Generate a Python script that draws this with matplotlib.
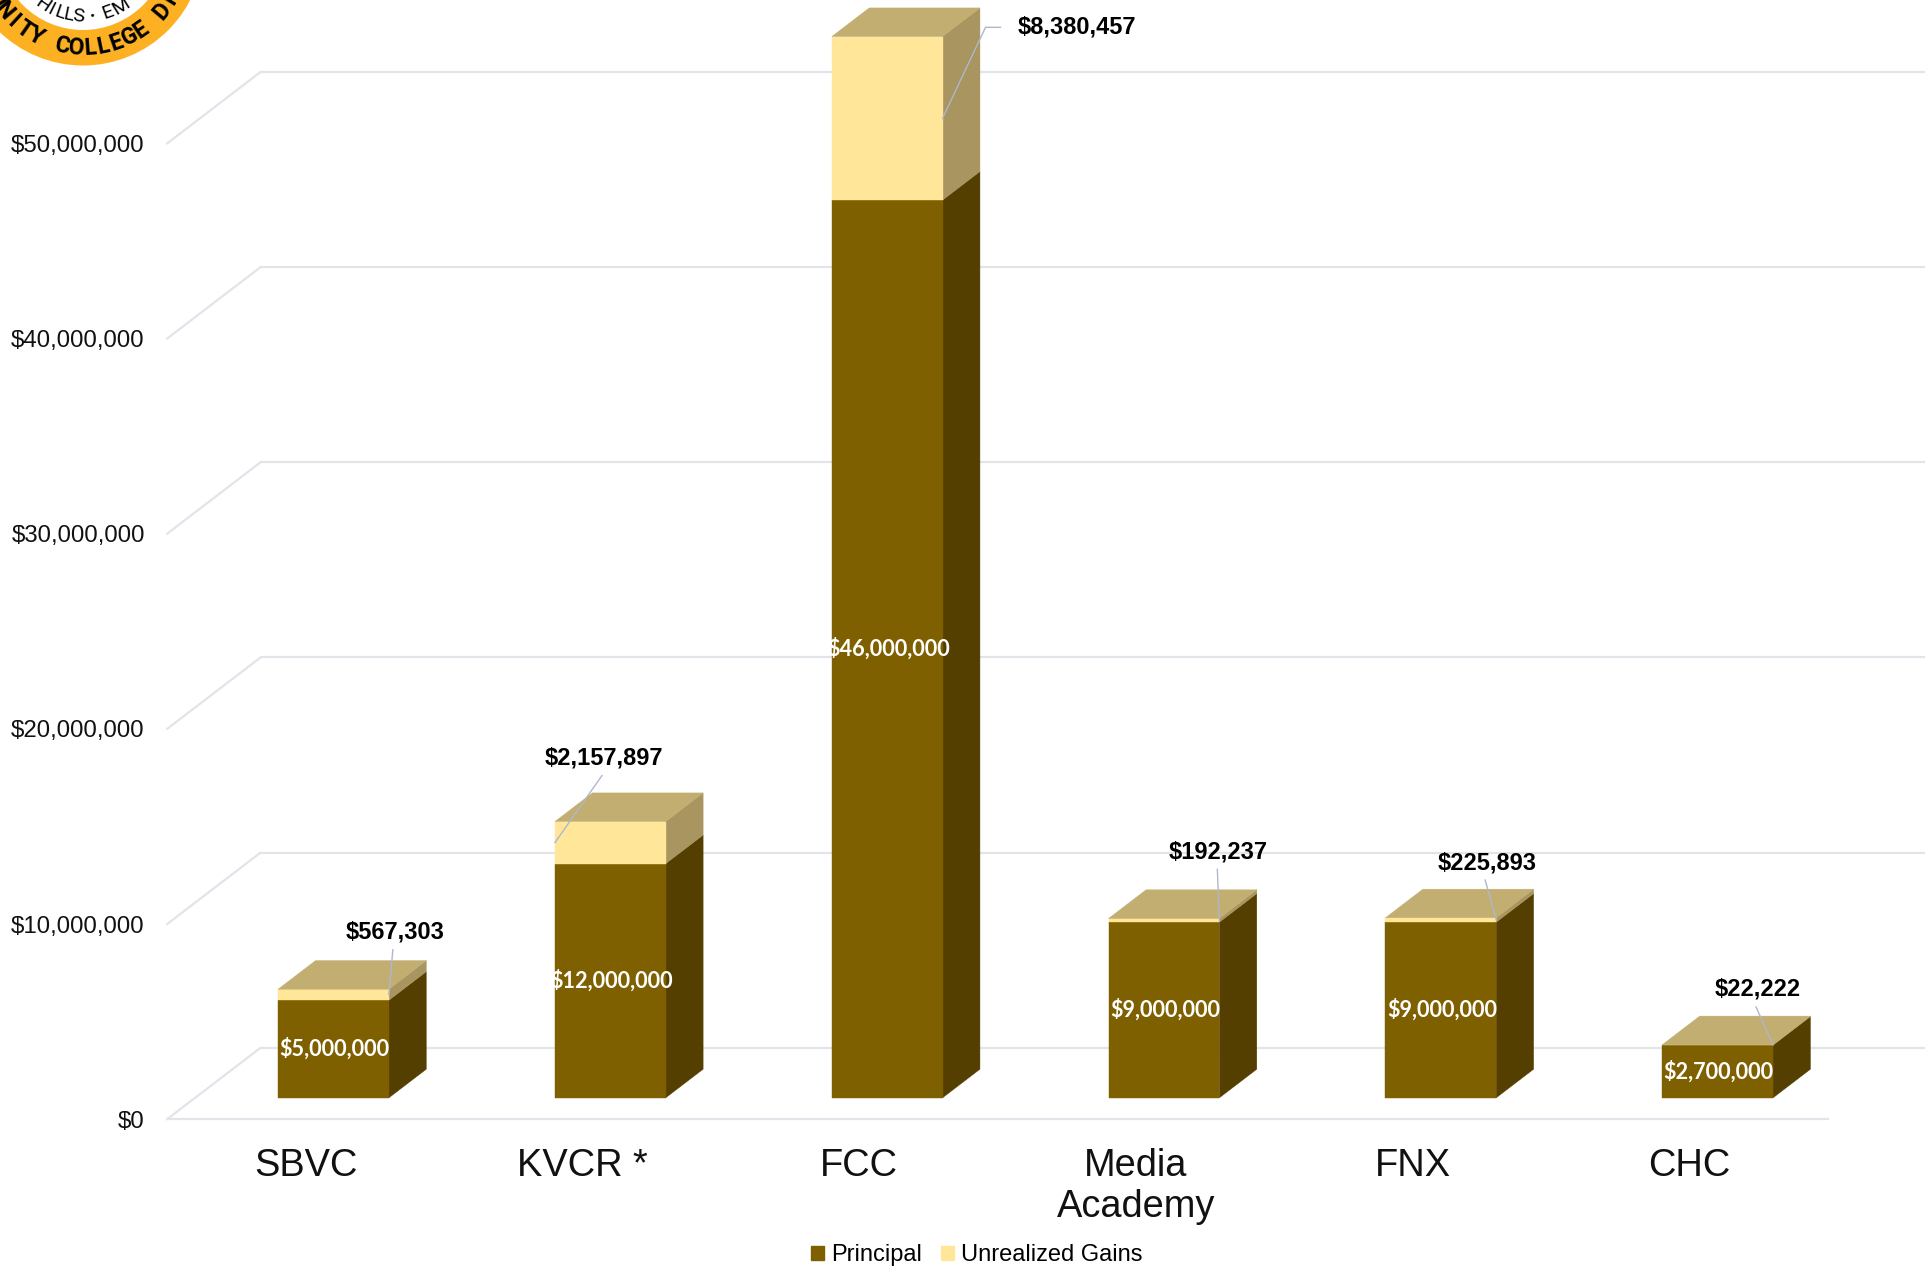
import math
import matplotlib
matplotlib.use('Agg')
import matplotlib.pyplot as plt
from matplotlib.patches import Circle, Patch

plt.rcParams['font.family'] = ['Liberation Sans', 'DejaVu Sans']

categories = ['SBVC', 'KVCR *', 'FCC', 'Media\nAcademy', 'FNX', 'CHC']
principal = [5000000, 12000000, 46000000, 9000000, 9000000, 2700000]
gains = [567303, 2157897, 8380457, 192237, 225893, 22222]
y_ticks = [0, 10000000, 20000000, 30000000, 40000000, 50000000]

# leader layout in pixels from the bar corner: (side, leader points, label centre)
leaders = [
    (1, [(4, -45)], (6, -63)),
    (-1, [(47, -67)], (49, -85)),
    (1, [(43, -91), (58, -91)], (134, -91)),
    (1, [(-2, -51)], (-1, -68)),
    (1, [(-11, -40)], (-9, -57)),
    (1, [(-17, -38)], (-15, -56)),
]

W, H = 1932, 1266
FRONT_PRINCIPAL = '#7F6000'
SIDE_PRINCIPAL = '#543F00'
FRONT_GAINS = '#FFE699'
SIDE_GAINS = '#A8955F'
TOP = '#C1AE70'
GRID = '#E3E4EA'
LEADER = '#AEB8CC'

# depth of the fake 3d box, in data units
DEPTH_X = 0.338
DEPTH_Y = 3666000
BAR_NEAR = 0.30
BAR_FAR = 0.70
BAR_W = 0.4

fig = plt.figure(figsize=(W / 100, H / 100), dpi=100)

ax_left, ax_right, ax_top, ax_bottom = 167, 1828, 143.5, 1119.3
ax = fig.add_axes([ax_left / W, 1 - ax_bottom / H, (ax_right - ax_left) / W, (ax_bottom - ax_top) / H])
ax.set_xlim(-0.5, 5.5)
ax.set_ylim(0, 50000000)
for s in ax.spines.values():
    s.set_visible(False)

px_x = 6 / (ax_right - ax_left)
px_y = 50000000 / (ax_bottom - ax_top)


def project(x, v, depth):
    return x + DEPTH_X * depth, v + DEPTH_Y * depth


def face(points, color, z=3):
    xs = [p[0] for p in points]
    ys = [p[1] for p in points]
    ax.fill(xs, ys, color=color, lw=0.3, clip_on=False, zorder=z)


# walls and floor
for t in y_ticks:
    bx, by = project(-0.5, t, 0)
    tx, ty = project(-0.5, t, 1)
    ax.plot([bx, tx], [by, ty], color=GRID, lw=1.6, clip_on=False, zorder=1, solid_capstyle='round')
    ax.plot([tx, project(5.5, t, 1)[0] + 2 * px_x], [ty, ty], color=GRID, lw=1.6, clip_on=False, zorder=1)
ax.plot([-0.5, 5.5], [0, 0], color=GRID, lw=1.6, clip_on=False, zorder=1)

for i in range(len(categories)):
    x0 = i - BAR_W / 2
    x1 = i + BAR_W / 2
    p = principal[i]
    total = p + gains[i]

    front = [project(x0, 0, BAR_NEAR), project(x1, 0, BAR_NEAR), project(x1, p, BAR_NEAR), project(x0, p, BAR_NEAR)]
    side = [project(x1, 0, BAR_NEAR), project(x1, 0, BAR_FAR), project(x1, p, BAR_FAR), project(x1, p, BAR_NEAR)]
    front_g = [project(x0, p, BAR_NEAR), project(x1, p, BAR_NEAR), project(x1, total, BAR_NEAR), project(x0, total, BAR_NEAR)]
    side_g = [project(x1, p, BAR_NEAR), project(x1, p, BAR_FAR), project(x1, total, BAR_FAR), project(x1, total, BAR_NEAR)]
    top = [project(x0, total, BAR_NEAR), project(x1, total, BAR_NEAR), project(x1, total, BAR_FAR), project(x0, total, BAR_FAR)]

    face(side, SIDE_PRINCIPAL)
    face(side_g, SIDE_GAINS)
    face(front, FRONT_PRINCIPAL)
    face(front_g, FRONT_GAINS)
    face(top, TOP)

    # white value label in the middle of the principal face
    cx, cy = project(i, p / 2, BAR_NEAR)
    ax.text(cx + 1 * px_x, cy, f'${p:,.0f}', color='white', fontsize=15.6, fontweight='bold',
            family=['Lato', 'DejaVu Sans'], ha='center', va='center', zorder=6, clip_on=False)

    # leader line and bold gains label
    sgn, pts, lab = leaders[i]
    ax_x, ax_y = project(x1 if sgn > 0 else x0, p + gains[i] / 2, BAR_NEAR)
    xs = [ax_x] + [ax_x + q[0] * px_x for q in pts]
    ys = [ax_y] + [ax_y - q[1] * px_y for q in pts]
    ax.plot(xs, ys, color=LEADER, lw=1.0, clip_on=False, zorder=5)
    ax.text(ax_x + lab[0] * px_x, ax_y - lab[1] * px_y, f'${gains[i]:,.0f}', fontsize=17, fontweight='bold',
            color='black', ha='center', va='center', zorder=6, clip_on=False)

ax.set_yticks(y_ticks)
ax.set_yticklabels([f'${t:,.0f}' for t in y_ticks], fontsize=17.25, color='#111111')
ax.tick_params(axis='y', length=0, pad=16)
ax.set_xticks(range(len(categories)))
ax.set_xticklabels(categories, fontsize=27.4, color='#111111', linespacing=1.17)
ax.tick_params(axis='x', length=0, pad=21)

fig.legend(handles=[Patch(color=FRONT_PRINCIPAL, label='Principal'), Patch(color=FRONT_GAINS, label='Unrealized Gains')],
           loc='center', bbox_to_anchor=(0.5055, 0.0085), ncol=2, frameon=False, fontsize=17.05,
           handlelength=0.55, handleheight=0.55, handletextpad=0.3, columnspacing=0.8, borderpad=0, borderaxespad=0)

# seal in the top left corner, cut by the edge of the page
seal = fig.add_axes([0, 0, 1, 1], zorder=-1)
seal.set_xlim(0, W)
seal.set_ylim(H, 0)
seal.axis('off')
cx, cy = 83, -55
seal.add_patch(Circle((cx, cy), 120.5, color='#FDB022', lw=0))
seal.add_patch(Circle((cx, cy), 85, color='white', lw=0))


def arc_text(text, start, step, radius, size, weight):
    for k, ch in enumerate(text):
        th = start + k * step
        x = cx + radius * math.sin(math.radians(th))
        y = cy + radius * math.cos(math.radians(th))
        seal.text(x, y, ch, rotation=th, rotation_mode='anchor', ha='center', va='center', fontsize=size,
                  fontweight=weight, family=['Roboto', 'Liberation Sans'], color='black')


arc_text('UNITY COLLEGE DIS', -11.6 - 6 * 7.7, 7.7, 103, 16.5, 'bold')
arc_text('HILLS', -34, 7.5, 72, 14, 'normal')
arc_text('·', 8, 1, 72, 14, 'bold')
arc_text('EM', 20, 12, 72, 14, 'normal')

fig.savefig('out.png', dpi=100)
